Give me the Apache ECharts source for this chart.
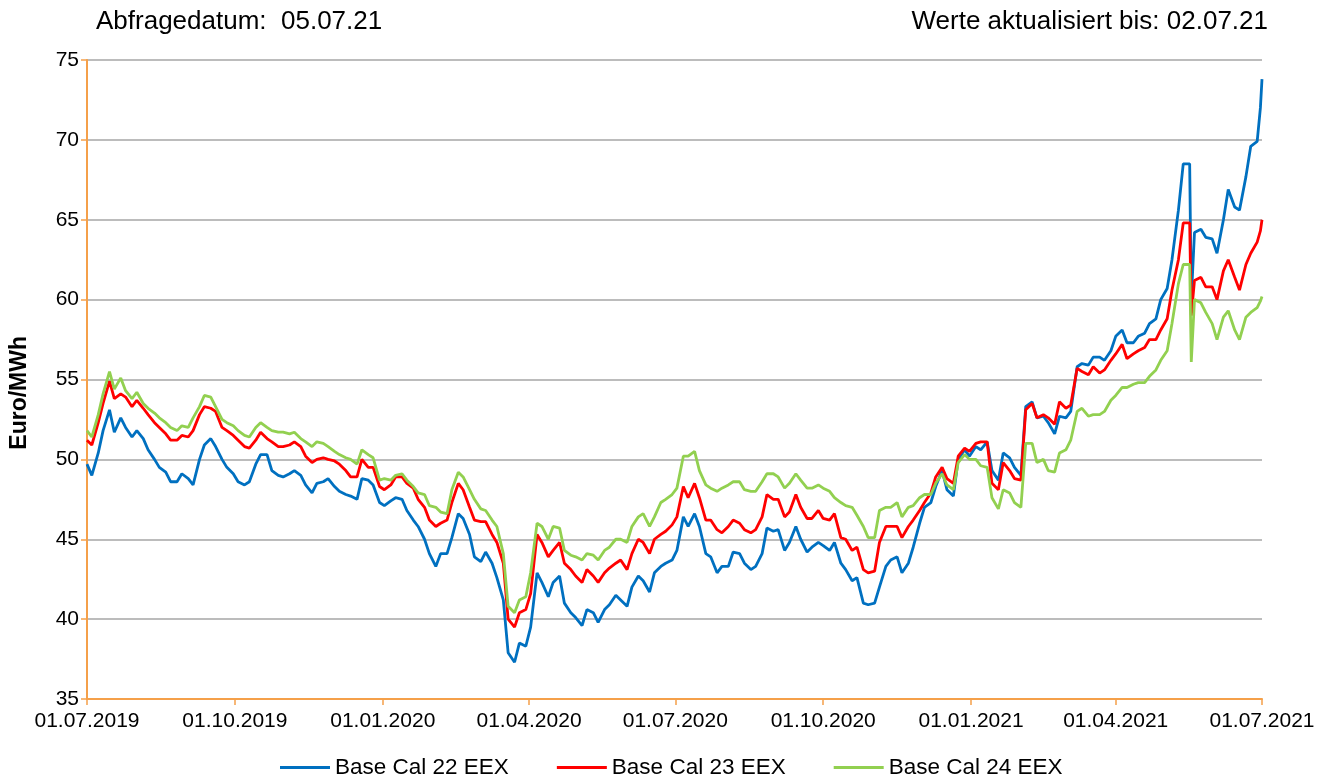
<!DOCTYPE html>
<html><head><meta charset="utf-8">
<script src="https://cdn.jsdelivr.net/npm/echarts@6/dist/echarts.min.js"></script>
<style>html,body{margin:0;padding:0;background:#fff}#c{width:1329px;height:777px}</style>
</head><body><div id="c"></div>
<script>
const dates = [
'2019-07-01','2019-07-04','2019-07-08','2019-07-11','2019-07-15','2019-07-18','2019-07-22','2019-07-25','2019-07-29','2019-08-01',
'2019-08-05','2019-08-08','2019-08-12','2019-08-15','2019-08-19','2019-08-22','2019-08-26','2019-08-29','2019-09-02','2019-09-05',
'2019-09-09','2019-09-12','2019-09-16','2019-09-19','2019-09-23','2019-09-26','2019-09-30','2019-10-03','2019-10-07','2019-10-10',
'2019-10-14','2019-10-17','2019-10-21','2019-10-24','2019-10-28','2019-10-31','2019-11-04','2019-11-07','2019-11-11','2019-11-14',
'2019-11-18','2019-11-21','2019-11-25','2019-11-28','2019-12-02','2019-12-05','2019-12-09','2019-12-12','2019-12-16','2019-12-19',
'2019-12-23','2019-12-26','2019-12-30','2020-01-02','2020-01-06','2020-01-09','2020-01-13','2020-01-16','2020-01-20','2020-01-23',
'2020-01-27','2020-01-30','2020-02-03','2020-02-06','2020-02-10','2020-02-13','2020-02-17','2020-02-20','2020-02-24','2020-02-27',
'2020-03-02','2020-03-05','2020-03-09','2020-03-12','2020-03-16','2020-03-19','2020-03-23','2020-03-26','2020-03-30','2020-04-02',
'2020-04-06','2020-04-09','2020-04-13','2020-04-16','2020-04-20','2020-04-23','2020-04-27','2020-04-30','2020-05-04','2020-05-07',
'2020-05-11','2020-05-14','2020-05-18','2020-05-21','2020-05-25','2020-05-28','2020-06-01','2020-06-04','2020-06-08','2020-06-11',
'2020-06-15','2020-06-18','2020-06-22','2020-06-25','2020-06-29','2020-07-02','2020-07-06','2020-07-09','2020-07-13','2020-07-16',
'2020-07-20','2020-07-23','2020-07-27','2020-07-30','2020-08-03','2020-08-06','2020-08-10','2020-08-13','2020-08-17','2020-08-20',
'2020-08-24','2020-08-27','2020-08-31','2020-09-03','2020-09-07','2020-09-10','2020-09-14','2020-09-17','2020-09-21','2020-09-24',
'2020-09-28','2020-10-01','2020-10-05','2020-10-08','2020-10-12','2020-10-15','2020-10-19','2020-10-22','2020-10-26','2020-10-29',
'2020-11-02','2020-11-05','2020-11-09','2020-11-12','2020-11-16','2020-11-19','2020-11-23','2020-11-26','2020-11-30','2020-12-03',
'2020-12-07','2020-12-10','2020-12-14','2020-12-17','2020-12-21','2020-12-24','2020-12-28','2020-12-31','2021-01-04','2021-01-07',
'2021-01-11','2021-01-14','2021-01-18','2021-01-21','2021-01-25','2021-01-28','2021-02-01','2021-02-04','2021-02-08','2021-02-11',
'2021-02-15','2021-02-18','2021-02-22','2021-02-25','2021-03-01','2021-03-04','2021-03-08','2021-03-11','2021-03-15','2021-03-18',
'2021-03-22','2021-03-25','2021-03-29','2021-04-01','2021-04-05','2021-04-08','2021-04-12','2021-04-15','2021-04-19','2021-04-22',
'2021-04-26','2021-04-29','2021-05-03','2021-05-06','2021-05-10','2021-05-13','2021-05-17','2021-05-18','2021-05-20',
'2021-05-24','2021-05-27','2021-05-31','2021-06-03','2021-06-07','2021-06-10','2021-06-14','2021-06-17','2021-06-21','2021-06-24',
'2021-06-28','2021-06-30','2021-07-01'
];
const cal22 = [
49.7,49.0, 50.4,51.8, 53.1,51.7, 52.6,52.0, 51.4,51.8,
51.3,50.6, 50.0,49.5, 49.2,48.6, 48.6,49.1, 48.8,48.4,
50.0,50.9, 51.3,50.8, 50.0,49.5, 49.1,48.6, 48.4,48.6,
49.7,50.3, 50.3,49.3, 49.0,48.9, 49.1,49.3, 49.0,48.4,
47.9,48.5, 48.6,48.8, 48.3,48.0, 47.8,47.7, 47.5,48.8,
48.7,48.4, 47.3,47.1, 47.4,47.6, 47.5,46.8, 46.2,45.8,
45.0,44.1, 43.3,44.1, 44.1,45.1, 46.6,46.3, 45.3,43.9,
43.6,44.2, 43.5,42.6, 41.2,37.9, 37.3,38.5, 38.3,39.5,
42.9,42.3, 41.4,42.3, 42.7,41.0, 40.4,40.1, 39.6,40.6,
40.4,39.8, 40.6,40.9, 41.5,41.2, 40.8,42.0, 42.7,42.4,
41.7,42.9, 43.3,43.5, 43.7,44.3, 46.4,45.8, 46.6,45.8,
44.1,43.9, 42.9,43.3, 43.3,44.2, 44.1,43.5, 43.1,43.3,
44.1,45.7, 45.5,45.6, 44.3,44.8, 45.8,45.0, 44.2,44.5,
44.8,44.6, 44.3,44.8, 43.5,43.1, 42.4,42.6, 41.0,40.9,
41.0,42.0, 43.3,43.7, 43.9,42.9, 43.5,44.5, 46.0,47.0,
47.3,48.3, 49.3,48.1, 47.7,50.0, 50.6,50.2, 50.8,50.6,
51.1,49.3, 48.7,50.4, 50.1,49.5, 49.0,53.3, 53.6,52.6,
52.7,52.3, 51.6,52.7, 52.6,53.0, 55.8,56.0, 55.9,56.4,
56.4,56.2, 56.8,57.7, 58.1,57.3, 57.3,57.7, 57.9,58.5,
58.8,60.0, 60.7,62.5, 65.6,68.5, 68.5,60.0,64.2,
64.4,63.9, 63.8,62.9, 65.0,66.9, 65.8,65.6, 67.7,69.6,
69.9,72.0,73.8
];
const cal23 = [
51.2,50.9, 52.3,53.5, 54.9,53.8, 54.1,53.9, 53.3,53.7,
53.2,52.8, 52.3,52.0, 51.6,51.2, 51.2,51.5, 51.4,51.8,
52.8,53.3, 53.2,53.0, 52.0,51.8, 51.5,51.2, 50.8,50.7,
51.2,51.7, 51.3,51.1, 50.8,50.8, 50.9,51.1, 50.8,50.2,
49.8,50.0, 50.1,50.0, 49.9,49.7, 49.3,48.9, 48.9,50.0,
49.5,49.5, 48.3,48.1, 48.4,48.9, 48.9,48.5, 48.2,47.5,
47.0,46.2, 45.8,46.0, 46.2,47.3, 48.5,48.1, 47.0,46.2,
46.1,46.1, 45.3,44.8, 43.5,40.0, 39.5,40.4, 40.6,41.6,
45.3,44.8, 43.9,44.3, 44.8,43.5, 43.1,42.7, 42.3,43.1,
42.7,42.3, 42.9,43.2, 43.5,43.7, 43.1,44.1, 45.0,44.8,
44.1,45.0, 45.3,45.5, 45.9,46.4, 48.3,47.6, 48.5,47.6,
46.2,46.2, 45.6,45.4, 45.8,46.2, 46.0,45.6, 45.4,45.6,
46.4,47.8, 47.5,47.5, 46.4,46.7, 47.8,47.0, 46.3,46.3,
46.8,46.3, 46.2,46.6, 45.1,45.0, 44.3,44.5, 43.1,42.9,
43.0,44.8, 45.8,45.8, 45.8,45.1, 45.8,46.2, 46.8,47.3,
47.9,48.9, 49.5,48.8, 48.5,50.2, 50.7,50.5, 51.0,51.1,
51.1,48.5, 48.1,49.8, 49.3,48.8, 48.7,53.1, 53.5,52.6,
52.8,52.6, 52.2,53.6, 53.2,53.4, 55.7,55.5, 55.3,55.8,
55.4,55.6, 56.2,56.6, 57.2,56.3, 56.6,56.8, 57.0,57.5,
57.5,58.1, 58.8,60.6, 62.5,64.8, 64.8,59.0,61.2,
61.4,60.8, 60.8,60.0, 61.8,62.5, 61.4,60.6, 62.2,62.9,
63.6,64.3,65.0
];
const cal24 = [
51.8,51.4, 52.8,54.1, 55.5,54.4, 55.1,54.3, 53.8,54.2,
53.5,53.2, 52.9,52.6, 52.3,52.0, 51.8,52.1, 52.0,52.6,
53.3,54.0, 53.9,53.3, 52.5,52.3, 52.1,51.8, 51.5,51.4,
52.0,52.3, 52.0,51.8, 51.7,51.7, 51.6,51.7, 51.3,51.1,
50.8,51.1, 51.0,50.8, 50.5,50.3, 50.1,50.0, 49.7,50.6,
50.3,50.1, 48.7,48.8, 48.7,49.0, 49.1,48.7, 48.3,47.9,
47.8,47.1, 47.0,46.7, 46.6,48.1, 49.2,48.9, 48.1,47.5,
46.9,46.8, 46.2,45.8, 44.1,40.8, 40.4,41.2, 41.4,42.9,
46.0,45.8, 45.0,45.8, 45.7,44.3, 44.0,43.9, 43.7,44.1,
44.0,43.7, 44.3,44.5, 45.0,45.0, 44.8,45.8, 46.4,46.6,
45.8,46.4, 47.3,47.5, 47.8,48.2, 50.2,50.2, 50.5,49.3,
48.4,48.2, 48.0,48.2, 48.4,48.6, 48.6,48.1, 48.0,48.0,
48.6,49.1, 49.1,48.9, 48.2,48.5, 49.1,48.7, 48.2,48.2,
48.4,48.2, 48.0,47.6, 47.3,47.1, 47.0,46.5, 45.8,45.1,
45.1,46.8, 47.0,47.0, 47.3,46.4, 47.0,47.1, 47.6,47.8,
47.8,48.5, 49.1,48.4, 48.1,49.8, 50.3,50.0, 50.0,49.6,
49.5,47.6, 46.9,48.1, 47.9,47.3, 47.0,51.0, 51.0,49.8,
50.0,49.3, 49.2,50.4, 50.6,51.2, 53.0,53.2, 52.7,52.8,
52.8,53.0, 53.7,54.0, 54.5,54.5, 54.7,54.8, 54.8,55.2,
55.6,56.2, 56.8,58.5, 61.0,62.2, 62.2,56.1,60.0,
59.8,59.2, 58.5,57.5, 58.9,59.3, 58.1,57.5, 58.9,59.2,
59.5,59.9,60.2
];
const seriesNames = ['Base Cal 22 EEX', 'Base Cal 23 EEX', 'Base Cal 24 EEX'];
const seriesColors = ['#0070C0', '#FF0000', '#92D050'];
const tickDates = ['2019-07-01','2019-10-01','2020-01-01','2020-04-01','2020-07-01','2020-10-01','2021-01-01','2021-04-01','2021-07-01'];
const yMin = 35, yMax = 75, yStep = 5;
const titleLeft = 'Abfragedatum:  05.07.21';
const titleRight = 'Werte aktualisiert bis: 02.07.21';
const yName = 'Euro/MWh';

function ts(s) { const p = s.split('-').map(Number); return new Date(p[0], p[1] - 1, p[2]).getTime(); }
function pad(n) { return (n < 10 ? '0' : '') + n; }
const tickTs = tickDates.map(ts);
const allVals = [cal22, cal23, cal24];

const chart = echarts.init(document.getElementById('c'), null, { renderer: 'canvas' });
const font = 'Liberation Sans, Arial, sans-serif';
const axisOrange = '#F5A04A';
chart.setOption({
  animation: false,
  backgroundColor: '#ffffff',
  textStyle: { fontFamily: font },
  grid: { left: 87, right: 67, top: 60, bottom: 78, containLabel: false },
  title: [
    { text: titleLeft, left: 91, top: 4, textStyle: { fontFamily: font, fontSize: 26, fontWeight: 'normal', color: '#000' } },
    { text: titleRight, right: 56, top: 4, textStyle: { fontFamily: font, fontSize: 26, fontWeight: 'normal', color: '#000' } }
  ],
  graphic: [{
    type: 'text', left: 8, top: 336, rotation: Math.PI / 2,
    style: { text: yName, font: 'bold 23px ' + font, fill: '#000' }
  }],
  legend: {
    top: 751, left: 275, icon: 'rect', itemWidth: 50, itemHeight: 3, itemGap: 48,
    textStyle: { fontFamily: font, fontSize: 22.5, color: '#000' },
    data: seriesNames
  },
  xAxis: {
    type: 'value',
    min: tickTs[0], max: tickTs[tickTs.length - 1],
    axisLine: { lineStyle: { color: axisOrange, width: 2 } },
    axisTick: { show: true, customValues: tickTs, length: 6, lineStyle: { color: axisOrange, width: 1.5 } },
    axisLabel: {
      customValues: tickTs, margin: 12, fontFamily: font, fontSize: 21, color: '#000', showMinLabel: true, showMaxLabel: true,
      formatter: function (v) { const d = new Date(v); return pad(d.getDate()) + '.' + pad(d.getMonth() + 1) + '.' + d.getFullYear(); }
    },
    splitLine: { show: false }
  },
  yAxis: {
    type: 'value', min: yMin, max: yMax, interval: yStep,
    axisLine: { show: true, lineStyle: { color: axisOrange, width: 2 } },
    axisTick: { show: true, length: 6, lineStyle: { color: axisOrange, width: 1.5 } },
    axisLabel: { margin: 8, fontFamily: font, fontSize: 21, color: '#000' },
    splitLine: { lineStyle: { color: '#A6A6A6', width: 1.5 } }
  },
  series: allVals.map(function (vals, i) {
    return {
      name: seriesNames[i], type: 'line', showSymbol: false, symbol: 'none',
      data: dates.map(function (d, j) { return [ts(d), vals[j]]; }),
      lineStyle: { color: seriesColors[i], width: 2.8 },
      itemStyle: { color: seriesColors[i] }
    };
  })
});
</script></body></html>
